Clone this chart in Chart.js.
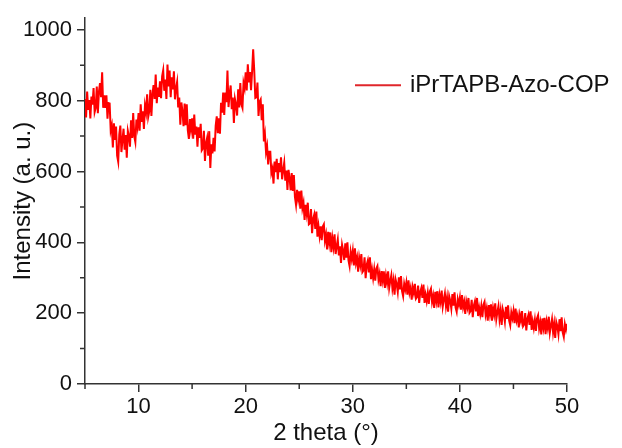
<!DOCTYPE html>
<html>
<head>
<meta charset="utf-8">
<script src="https://cdn.jsdelivr.net/npm/chart.js@4.4.1/dist/chart.umd.min.js"></script>
<style>
    html, body { margin: 0; padding: 0; background: #fff; }
    #wrap { width: 622px; height: 448px; }
</style>
</head>
<body>
<div id="wrap"><canvas id="xrd"></canvas></div>
<script>
// Scan settings (2 theta grid, 0.1 deg steps) and intensity
const thetaStart = 5;
const thetaStep = 0.1;
const seriesName = 'iPrTAPB-Azo-COP';
const intensity = [
    805, 753, 826, 774, 802, 750, 812, 789, 836, 768,   // 5
    780, 840, 765, 825, 850, 810, 880, 780, 815, 780,   // 6
    815, 749, 793, 792, 716, 730, 668, 736, 689, 727,   // 7
    645, 628, 705, 730, 655, 690, 721, 662, 703, 639,   // 8
    715, 700, 670, 745, 695, 765, 699, 683, 747, 726,   // 9
    765, 715, 790, 740, 770, 720, 786, 767, 818, 754,   // 10
    770, 831, 757, 818, 844, 805, 874, 793, 837, 811,   // 11
    855, 807, 869, 886, 828, 860, 805, 902, 840, 885,   // 12
    810, 866, 832, 883, 804, 835, 853, 781, 809, 732,   // 13
    795, 769, 728, 792, 731, 790, 716, 692, 748, 719,   // 14
    750, 693, 761, 704, 727, 670, 725, 695, 735, 660,   // 15
    665, 715, 630, 680, 695, 645, 714, 610, 677, 651,   // 16
    695, 657, 729, 756, 708, 750, 707, 794, 766, 823,   // 17
    760, 823, 796, 885, 782, 820, 843, 776, 809, 737,   // 18
    805, 789, 758, 832, 781, 850, 790, 780, 850, 835,   // 19
    880, 829, 903, 852, 881, 830, 882, 945, 886, 808,   // 20
    810, 851, 757, 798, 804, 745, 790, 685, 705, 655,   // 21
    672, 620, 656, 656, 596, 608, 566, 628, 598, 636,   // 22
    578, 624, 598, 640, 578, 604, 625, 574, 603, 548,   // 23
    605, 582, 547, 596, 545, 590, 528, 506, 548, 522,   // 24
    544, 495, 546, 497, 512, 463, 506, 481, 512, 451,   // 25
    454, 494, 426, 466, 478, 438, 487, 416, 445, 418,   // 26
    445, 406, 445, 451, 405, 422, 380, 430, 399, 428,   // 27
    372, 411, 387, 423, 367, 389, 408, 363, 389, 342,   // 28
    393, 377, 350, 397, 357, 400, 349, 333, 373, 353,   // 29
    376, 335, 383, 342, 357, 317, 357, 337, 367, 316,   // 30
    321, 358, 299, 336, 348, 315, 358, 296, 323, 299,   // 31
    324, 292, 326, 333, 295, 311, 276, 319, 293, 318,   // 32
    271, 306, 286, 318, 271, 291, 307, 270, 292, 252,   // 33
    295, 282, 260, 301, 267, 305, 262, 248, 283, 267,   // 34
    286, 252, 293, 258, 272, 238, 273, 257, 283, 241,   // 35
    246, 278, 229, 260, 271, 243, 281, 229, 252, 234,   // 36
    257, 226, 261, 269, 232, 249, 215, 260, 235, 262,   // 37
    216, 251, 232, 264, 219, 239, 256, 220, 243, 204,   // 38
    248, 235, 213, 254, 221, 259, 216, 204, 239, 224,   // 39
    244, 210, 251, 217, 232, 198, 233, 217, 243, 201,   // 40
    206, 238, 189, 221, 233, 205, 243, 192, 215, 197,   // 41
    220, 189, 224, 232, 196, 213, 179, 223, 198, 225,   // 42
    179, 214, 196, 228, 183, 203, 220, 183, 207, 167,   // 43
    211, 198, 176, 218, 184, 222, 179, 166, 202, 186,   // 44
    206, 172, 213, 180, 194, 160, 195, 179, 206, 163,   // 45
    168, 200, 151, 184, 195, 167, 205, 153, 177, 158,   // 46
    181, 150, 185, 194, 157, 174, 140, 185, 160, 187,   // 47
    141, 176, 158, 190, 145, 165, 183, 146, 170, 130,   // 48
    175, 163, 141, 183, 149, 188, 146, 133, 169, 153,   // 49
    170                                                 // 50
];
const xTicks = [10, 20, 30, 40, 50];
const xMinorTicks = [5, 15, 25, 35, 45];
const yTicks = [0, 200, 400, 600, 800, 1000];
const yMinorTicks = [100, 300, 500, 700, 900];

const points = intensity.map((v, i) => ({ x: +(thetaStart + i * thetaStep).toFixed(1), y: v }));

const axisColor = '#333';
const fontFamily = '"Liberation Sans", Arial, sans-serif';

// small ticks between the labelled ones
const minorTicks = {
    id: 'minorTicks',
    afterDraw(chart) {
        const { ctx, scales: { x, y } } = chart;
        ctx.save();
        ctx.strokeStyle = axisColor;
        ctx.lineWidth = 1.5;
        ctx.beginPath();
        xMinorTicks.forEach(t => {
            const px = x.getPixelForValue(t);
            ctx.moveTo(px, y.bottom);
            ctx.lineTo(px, y.bottom + 5);
        });
        yMinorTicks.forEach(t => {
            const py = y.getPixelForValue(t);
            ctx.moveTo(x.left, py);
            ctx.lineTo(x.left - 5, py);
        });
        ctx.stroke();
        ctx.restore();
    }
};

// legend drawn inside the plot, top right
const innerLegend = {
    id: 'innerLegend',
    afterDraw(chart) {
        const { ctx, chartArea } = chart;
        const lx = chartArea.right - 212;
        const ly = chartArea.top + 67;
        ctx.save();
        ctx.strokeStyle = '#e0262b';
        ctx.lineWidth = 2;
        ctx.beginPath();
        ctx.moveTo(lx, ly);
        ctx.lineTo(lx + 46, ly);
        ctx.stroke();
        ctx.fillStyle = '#111';
        ctx.font = '24px ' + fontFamily;
        ctx.textBaseline = 'middle';
        ctx.fillText(seriesName, lx + 55, ly);
        ctx.restore();
    }
};

const ctx = document.getElementById('xrd').getContext('2d');
new Chart(ctx, {
    type: 'line',
    data: {
        datasets: [{
            label: seriesName,
            data: points,
            borderColor: '#ff0000',
            borderWidth: 2,
            pointRadius: 0,
            tension: 0,
            fill: false
        }]
    },
    options: {
        responsive: true,
        maintainAspectRatio: false,
        animation: false,
        layout: { padding: { top: 13, right: 55, left: 0, bottom: 0 } },
        plugins: {
            legend: { display: false },
            tooltip: { enabled: false }
        },
        scales: {
            x: {
                type: 'linear',
                min: 5,
                max: 50,
                afterBuildTicks: s => { s.ticks = xTicks.map(v => ({ value: v })); },
                afterFit: s => { s.height = 64; },
                border: { color: axisColor, width: 1.5 },
                grid: { drawOnChartArea: false, drawTicks: true, tickLength: 8, color: axisColor, lineWidth: 1.5 },
                ticks: { color: '#111', font: { size: 22, family: fontFamily }, padding: 2, maxRotation: 0, callback: v => String(v) },
                title: { display: true, text: '2 theta (°)', color: '#111', font: { size: 24, family: fontFamily }, padding: { top: 0, bottom: 0 } }
            },
            y: {
                min: 0,
                max: 1033,
                afterBuildTicks: s => { s.ticks = yTicks.map(v => ({ value: v })); },
                afterFit: s => { s.width = 85; },
                border: { color: axisColor, width: 1.5 },
                grid: { drawOnChartArea: false, drawTicks: true, tickLength: 8, color: axisColor, lineWidth: 1.5 },
                ticks: { color: '#111', font: { size: 22, family: fontFamily }, padding: 5, callback: v => String(v) },
                title: { display: true, text: 'Intensity (a. u.)', color: '#111', font: { size: 24, family: fontFamily }, padding: { top: 9, bottom: 0 } }
            }
        }
    },
    plugins: [minorTicks, innerLegend]
});
</script>
</body>
</html>
